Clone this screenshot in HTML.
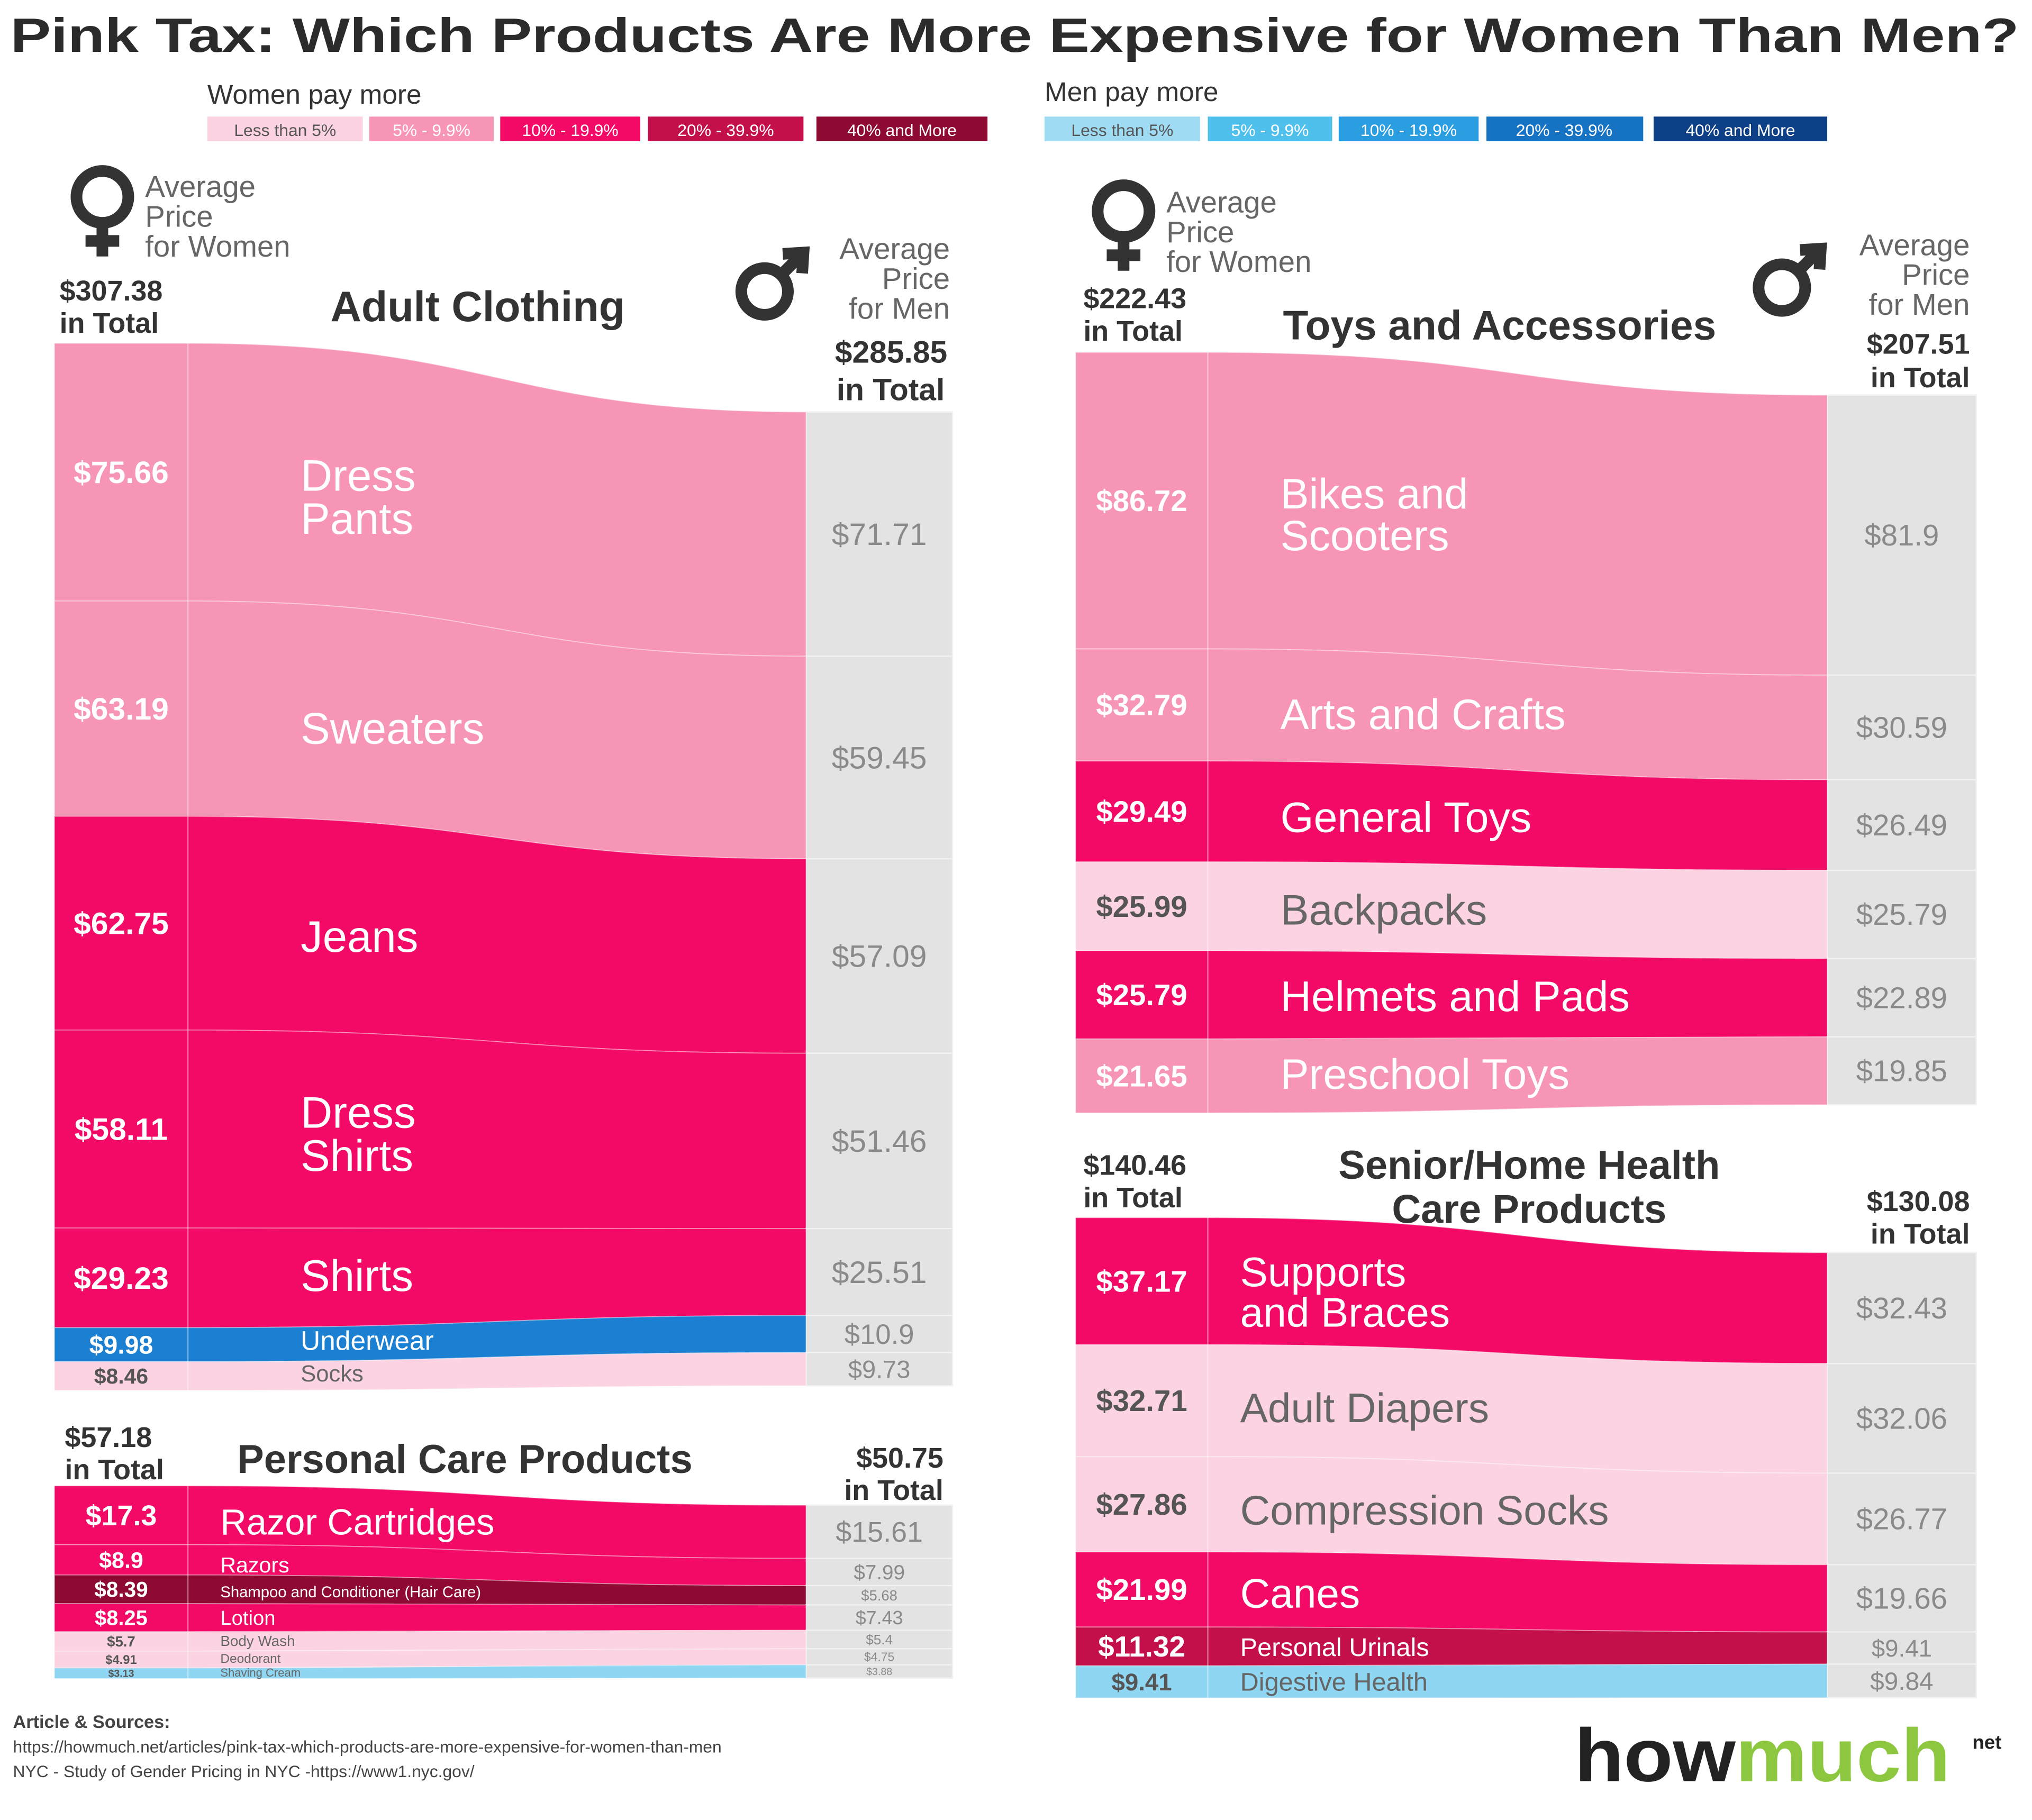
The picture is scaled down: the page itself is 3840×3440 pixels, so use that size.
<!DOCTYPE html>
<html><head><meta charset="utf-8">
<style>
html,body{margin:0;padding:0;background:#fff;}
svg{display:block;font-family:"Liberation Sans","DejaVu Sans",sans-serif;}
</style></head>
<body>
<svg id="chart" width="3840" height="3440" viewBox="0 0 1568 1405" preserveAspectRatio="none" xmlns="http://www.w3.org/2000/svg">
<rect x="0" y="0" width="1568" height="1405" fill="#ffffff"/>
<text x="8" y="40" font-size="37" font-weight="bold" fill="#2b2b2b" textLength="1550" lengthAdjust="spacingAndGlyphs">Pink Tax: Which Products Are More Expensive for Women Than Men?</text>

<g>
<text x="160" y="80" font-size="21" fill="#333">Women pay more</text>
<rect x="160" y="90" width="120" height="19" fill="#fbd3e2"/><text x="220" y="105" font-size="13" fill="#555" text-anchor="middle">Less than 5%</text>
<rect x="285" y="90" width="96" height="19" fill="#f795b7"/><text x="333" y="105" font-size="13" fill="#fff" text-anchor="middle">5% - 9.9%</text>
<rect x="386" y="90" width="108" height="19" fill="#f20a66"/><text x="440" y="105" font-size="13" fill="#fff" text-anchor="middle">10% - 19.9%</text>
<rect x="500" y="90" width="120" height="19" fill="#c4104a"/><text x="560" y="105" font-size="13" fill="#fff" text-anchor="middle">20% - 39.9%</text>
<rect x="630" y="90" width="132" height="19" fill="#8e0a32"/><text x="696" y="105" font-size="13" fill="#fff" text-anchor="middle">40% and More</text>
</g>
<g>
<text x="806" y="78" font-size="21" fill="#333">Men pay more</text>
<rect x="806" y="90" width="120" height="19" fill="#9fdcf4"/><text x="866" y="105" font-size="13" fill="#555" text-anchor="middle">Less than 5%</text>
<rect x="932" y="90" width="96" height="19" fill="#4fbfec"/><text x="980" y="105" font-size="13" fill="#fff" text-anchor="middle">5% - 9.9%</text>
<rect x="1033" y="90" width="108" height="19" fill="#2a9ee0"/><text x="1087" y="105" font-size="13" fill="#fff" text-anchor="middle">10% - 19.9%</text>
<rect x="1147" y="90" width="121" height="19" fill="#1673c4"/><text x="1207" y="105" font-size="13" fill="#fff" text-anchor="middle">20% - 39.9%</text>
<rect x="1276" y="90" width="134" height="19" fill="#0c3f86"/><text x="1343" y="105" font-size="13" fill="#fff" text-anchor="middle">40% and More</text>
</g>

<g fill="#333">
<g stroke="#333" stroke-width="9" fill="none">
<circle cx="79" cy="152" r="20"/><line x1="79" y1="172" x2="79" y2="198"/><line x1="66" y1="186" x2="92" y2="186"/></g>
<text x="112" y="152" font-size="23" fill="#666">Average</text>
<text x="112" y="175" font-size="23" fill="#666">Price</text>
<text x="112" y="198" font-size="23" fill="#666">for Women</text>
<text x="46" y="232" font-size="22" font-weight="bold">$307.38</text>
<text x="46" y="257" font-size="22" font-weight="bold">in Total</text>
<text x="255" y="248" font-size="33" font-weight="bold">Adult Clothing</text>
<g stroke="#333" stroke-width="9" fill="none">
<circle cx="590" cy="225" r="18"/><line x1="603" y1="212" x2="620" y2="195"/><polyline points="604,196 620,195 619,211"/></g>
<text x="733" y="200" font-size="23" fill="#666" text-anchor="end">Average</text>
<text x="733" y="223" font-size="23" fill="#666" text-anchor="end">Price</text>
<text x="733" y="246" font-size="23" fill="#666" text-anchor="end">for Men</text>
<text x="731" y="280" font-size="24" font-weight="bold" text-anchor="end">$285.85</text>
<text x="729" y="309" font-size="24" font-weight="bold" text-anchor="end">in Total</text>
</g>
<g fill="#333">
<g stroke="#333" stroke-width="9" fill="none">
<circle cx="867" cy="163" r="20"/><line x1="867" y1="183" x2="867" y2="209"/><line x1="854" y1="197" x2="880" y2="197"/></g>
<text x="900" y="164" font-size="23" fill="#666">Average</text>
<text x="900" y="187" font-size="23" fill="#666">Price</text>
<text x="900" y="210" font-size="23" fill="#666">for Women</text>
<text x="836" y="238" font-size="22" font-weight="bold">$222.43</text>
<text x="836" y="263" font-size="22" font-weight="bold">in Total</text>
<text x="990" y="262" font-size="32" font-weight="bold">Toys and Accessories</text>
<g stroke="#333" stroke-width="9" fill="none">
<circle cx="1375" cy="222" r="18"/><line x1="1388" y1="209" x2="1405" y2="192"/><polyline points="1389,193 1405,192 1404,208"/></g>
<text x="1520" y="197" font-size="23" fill="#666" text-anchor="end">Average</text>
<text x="1520" y="220" font-size="23" fill="#666" text-anchor="end">Price</text>
<text x="1520" y="243" font-size="23" fill="#666" text-anchor="end">for Men</text>
<text x="1520" y="273" font-size="22" font-weight="bold" text-anchor="end">$207.51</text>
<text x="1520" y="299" font-size="22" font-weight="bold" text-anchor="end">in Total</text>
</g>
<g fill="#333">
<text x="836" y="907" font-size="22" font-weight="bold">$140.46</text>
<text x="836" y="932" font-size="22" font-weight="bold">in Total</text>
<text x="1180" y="910" font-size="31" font-weight="bold" text-anchor="middle">Senior/Home Health</text>
<text x="1180" y="944" font-size="31" font-weight="bold" text-anchor="middle">Care Products</text>
<text x="1520" y="935" font-size="22" font-weight="bold" text-anchor="end">$130.08</text>
<text x="1520" y="960" font-size="22" font-weight="bold" text-anchor="end">in Total</text>
</g>
<g fill="#333">
<text x="50" y="1117" font-size="22" font-weight="bold">$57.18</text>
<text x="50" y="1142" font-size="22" font-weight="bold">in Total</text>
<text x="183" y="1137" font-size="31" font-weight="bold">Personal Care Products</text>
<text x="728" y="1133" font-size="22" font-weight="bold" text-anchor="end">$50.75</text>
<text x="728" y="1158" font-size="22" font-weight="bold" text-anchor="end">in Total</text>
</g>

<g id="panels"></g>

<g fill="#444">
<text x="10" y="1334" font-size="14" font-weight="bold">Article &amp; Sources:</text>
<text x="10" y="1353" font-size="13">https://howmuch.net/articles/pink-tax-which-products-are-more-expensive-for-women-than-men</text>
<text x="10" y="1372" font-size="13">NYC - Study of Gender Pricing in NYC -https://www1.nyc.gov/</text>
</g>
<g>
<text x="1215" y="1375" font-size="58" font-weight="bold" fill="#222" textLength="290" lengthAdjust="spacingAndGlyphs">how<tspan fill="#8dc63f">much</tspan></text>
<text x="1522" y="1350" font-size="15" font-weight="bold" fill="#222">net</text>
</g>
</svg>
<script>
const NS="http://www.w3.org/2000/svg";
const TIER_COLORS={L:"#fbd3e2",M:"#f795b7",H:"#f20a66",D:"#c4104a",X:"#8e0a32",BL:"#8fd6f2",BM:"#1b7fd2"};
const clothCats=["Dress|Pants","Sweaters","Jeans","Dress|Shirts","Shirts","Underwear","Socks"];
const clothWomen=[75.66,63.19,62.75,58.11,29.23,9.98,8.46];
const clothMen=[71.71,59.45,57.09,51.46,25.51,10.9,9.73];
const clothTiers=["M","M","H","H","H","BM","L"];
const toyCats=["Bikes and|Scooters","Arts and Crafts","General Toys","Backpacks","Helmets and Pads","Preschool Toys"];
const toyWomen=[86.72,32.79,29.49,25.99,25.79,21.65];
const toyMen=[81.9,30.59,26.49,25.79,22.89,19.85];
const toyTiers=["M","M","H","L","H","M"];
const seniorCats=["Supports|and Braces","Adult Diapers","Compression Socks","Canes","Personal Urinals","Digestive Health"];
const seniorWomen=[37.17,32.71,27.86,21.99,11.32,9.41];
const seniorMen=[32.43,32.06,26.77,19.66,9.41,9.84];
const seniorTiers=["H","L","L","H","D","BL"];
const careCats=["Razor Cartridges","Razors","Shampoo and Conditioner (Hair Care)","Lotion","Body Wash","Deodorant","Shaving Cream"];
const careWomen=[17.3,8.9,8.39,8.25,5.7,4.91,3.13];
const careMen=[15.61,7.99,5.68,7.43,5.4,4.75,3.88];
const careTiers=["H","H","X","H","L","L","BL"];

const root=document.getElementById("panels");
function mk(tag,attrs,parent){const e=document.createElementNS(NS,tag);for(const k in attrs)e.setAttribute(k,attrs[k]);parent.appendChild(e);return e;}
function fmt(v){return "$"+v;}

function panel(name,p,cats,w,m,tiers){
  const g=mk("g",{},root);
  
  
  const yL=v=>p.topL+p.k*v, yR=v=>p.topR+p.k*v;
  const mid=(p.xm+p.xr)/2;
  let cw=0,cm=0;
  for(let i=0;i<cats.length;i++){
    const l0=yL(cw),l1=yL(cw+w[i]),r0=yR(cm),r1=yR(cm+m[i]);
    cw+=w[i];cm+=m[i];
    const gr=mk("rect",{x:p.xr,y:r0,width:p.xg-p.xr,height:r1-r0,fill:"#e3e3e3",stroke:"#f2f2f2","stroke-width":1},g);
    
    
    const col=TIER_COLORS[tiers[i]];
    const d=`M${p.xl},${l0} H${p.xm} C${mid},${l0} ${mid},${r0} ${p.xr},${r0} V${r1} C${mid},${r1} ${mid},${l1} ${p.xm},${l1} H${p.xl} Z`;
    const band=mk("path",{d:d,fill:col,stroke:"rgba(255,255,255,0.35)","stroke-width":0.8},g);
    
    
    const hl=l1-l0,hr=r1-r0;
    const light=(tiers[i]==="L"||tiers[i]==="BL");
    const fsL=Math.max(8,Math.min(p.fsV,hl*0.75));
    const tl=mk("text",{x:(p.xl+p.xm)/2,y:(l0+l1)/2+fsL*0.35,"font-size":fsL,"font-weight":"bold","text-anchor":"middle",fill:light?"#555":"#fff"},g);
    tl.textContent=fmt(w[i]);
    
    
    const fsR=Math.max(8,Math.min(p.fsV,hr*0.75));
    const tr=mk("text",{x:(p.xr+p.xg)/2,y:(r0+r1)/2+fsR*0.35,"font-size":fsR,"text-anchor":"middle",fill:"#8a8a8a"},g);
    tr.textContent=fmt(m[i]);
    
    
    const lines=cats[i].split("|");
    const lc=(l0+l1)/2,rc=(r0+r1)/2,yc=lc+(rc-lc)*0.4;
    const hmin=Math.min(hl,hr);
    const fsC=Math.max(9,Math.min(p.fsC,hmin*0.8/lines.length));
    lines.forEach((t,j)=>{
      const ct=mk("text",{x:p.xc,y:yc+(j-(lines.length-1)/2)*fsC*0.98+fsC*0.35,"font-size":fsC,fill:light?"#666":"#fff"},g);
      ct.textContent=t;
      
      
    });
  }
  mk("line",{x1:p.xm,y1:p.topL,x2:p.xm,y2:yL(cw),stroke:"rgba(255,255,255,0.4)","stroke-width":1},g);
}
panel("adult-clothing",{xl:42,xm:145,xr:622,xg:735,topL:265,topR:318,k:2.63,xc:232,fsV:24,fsC:34},clothCats,clothWomen,clothMen,clothTiers);
panel("toys",{xl:830,xm:932,xr:1410,xg:1525,topL:272,topR:305,k:2.64,xc:988,fsV:23,fsC:33},toyCats,toyWomen,toyMen,toyTiers);
panel("senior-health",{xl:830,xm:932,xr:1410,xg:1525,topL:940,topR:967,k:2.64,xc:957,fsV:23,fsC:32},seniorCats,seniorWomen,seniorMen,seniorTiers);
panel("personal-care",{xl:42,xm:145,xr:622,xg:735,topL:1147,topR:1162,k:2.63,xc:170,fsV:22,fsC:28},careCats,careWomen,careMen,careTiers);
</script>
</body></html>
